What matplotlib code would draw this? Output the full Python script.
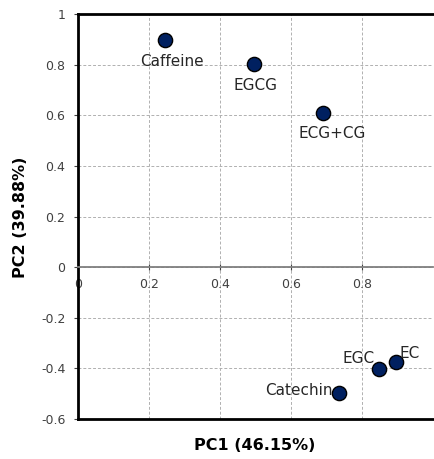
import matplotlib
matplotlib.use("Agg")
import matplotlib.pyplot as plt

# loadings of each compound on the first two components
names = ["Caffeine", "EGCG", "ECG+CG", "EGC", "EC", "Catechin"]
pc1 = [0.245, 0.495, 0.689, 0.847, 0.895, 0.734]
pc2 = [0.897, 0.802, 0.608, -0.403, -0.375, -0.498]

# label offsets in points and alignment for each compound
offsets = {
    "Caffeine": ((5, -10), "center", "top"),
    "EGCG": ((1, -10), "center", "top"),
    "ECG+CG": ((7, -9), "center", "top"),
    "EGC": ((-3, 2), "right", "bottom"),
    "EC": ((3, 1), "left", "bottom"),
    "Catechin": ((-4, 2), "right", "center"),
}

fig = plt.figure(figsize=(4.35, 4.59), dpi=100)
ax = fig.add_axes([78 / 435, 40 / 459, 355 / 435, 405 / 459])

ax.set_xlim(0, 1)
ax.set_ylim(-0.6, 1)
ax.set_xticks([0, 0.2, 0.4, 0.6, 0.8])
ax.set_yticks([-0.6, -0.4, -0.2, 0, 0.2, 0.4, 0.6, 0.8, 1])
ax.set_xticklabels(["0", "0.2", "0.4", "0.6", "0.8"])
ax.set_yticklabels(["-0.6", "-0.4", "-0.2", "0", "0.2", "0.4", "0.6", "0.8", "1"])

ax.grid(True, color="#b0b0b0", linestyle=(0, (3, 2)), linewidth=0.7)
ax.set_axisbelow(True)

# x axis runs through zero, box border kept at the bottom
ax.spines["bottom"].set_position(("data", 0))
ax.spines["bottom"].set_color("#7f7f7f")
ax.spines["bottom"].set_linewidth(1.3)
ax.spines["right"].set_visible(False)
ax.spines["left"].set_linewidth(2)
ax.spines["top"].set_linewidth(2)
ax.axhline(-0.6, color="black", linewidth=2, clip_on=False)

ax.tick_params(axis="x", direction="inout", length=5, width=0.8, color="#404040",
               labelsize=9, labelcolor="#404040", pad=5)
ax.tick_params(axis="y", direction="out", length=3, width=0.8, color="#404040",
               labelsize=9, labelcolor="#404040", pad=6)

ax.scatter(pc1, pc2, s=105, color="#002060", edgecolors="black", linewidths=1, zorder=3)

for name, x, y in zip(names, pc1, pc2):
    (dx, dy), ha, va = offsets[name]
    ax.annotate(name, (x, y), xytext=(dx, dy), textcoords="offset points",
                ha=ha, va=va, fontsize=11, color="#262626")

fig.text(255 / 435, 1 - 445 / 459, "PC1 (46.15%)", ha="center", va="center",
         fontsize=11.5, fontweight="bold")
fig.text(21 / 435, 1 - 217 / 459, "PC2 (39.88%)", ha="center", va="center",
         rotation=90, fontsize=11.5, fontweight="bold")

fig.savefig("out.png", dpi=100, facecolor="white")
